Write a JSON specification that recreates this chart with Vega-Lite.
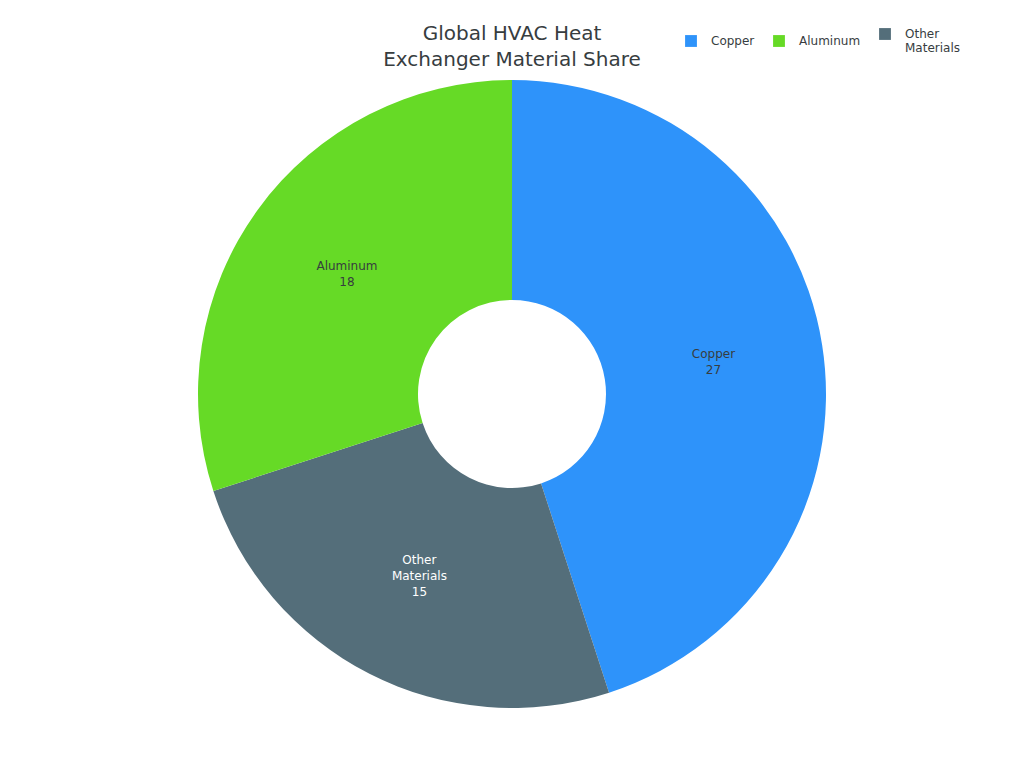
{
  "$schema": "https://vega.github.io/schema/vega-lite/v6.json",
  "width": 1024,
  "height": 748,
  "autosize": {"type": "none"},
  "padding": {"top": 20, "left": 0, "right": 0, "bottom": 0},
  "background": "white",
  "config": {"view": {"stroke": null}, "font": "DejaVu Sans"},
  "title": {
    "text": ["Global HVAC Heat", "Exchanger Material Share"],
    "anchor": "middle",
    "frame": "group",
    "font": "DejaVu Sans",
    "fontSize": 20,
    "fontWeight": "normal",
    "color": "#373d3f",
    "lineHeight": 26,
    "offset": -50
  },
  "data": {
    "values": [
      {"material": "Copper", "value": 27, "rank": 1},
      {"material": "Other Materials", "value": 15, "rank": 2},
      {"material": "Aluminum", "value": 18, "rank": 3}
    ]
  },
  "transform": [
    {"calculate": "datum.material + ' ' + datum.value", "as": "label"}
  ],
  "encoding": {
    "theta": {"field": "value", "type": "quantitative", "stack": true},
    "order": {"field": "rank", "type": "quantitative"}
  },
  "layer": [
    {
      "mark": {"type": "arc", "radius": 314, "innerRadius": 94, "strokeWidth": 0},
      "encoding": {
        "color": {
          "field": "material",
          "type": "nominal",
          "scale": {
            "domain": ["Copper", "Aluminum", "Other Materials"],
            "range": ["#2E93FA", "#66DA26", "#546E7A"]
          },
          "legend": {
            "title": null,
            "orient": "none",
            "legendX": 685,
            "legendY": 8,
            "direction": "horizontal",
            "symbolType": "square",
            "symbolSize": 140,
            "symbolStrokeWidth": 0,
            "labelFont": "DejaVu Sans",
            "labelFontSize": 12,
            "labelColor": "#373d3f",
            "labelOffset": 14,
            "columnPadding": 18,
            "padding": 0,
            "labelExpr": "split(datum.label, ' ')"
          }
        }
      }
    },
    {
      "mark": {
        "type": "text",
        "radius": 204,
        "fontSize": 12,
        "font": "DejaVu Sans",
        "lineBreak": " ",
        "lineHeight": 16,
        "baseline": "middle",
        "align": "center",
        "dy": {"expr": "-(length(split(datum.label, ' ')) - 1) * 8"}
      },
      "encoding": {
        "text": {"field": "label", "type": "nominal"},
        "color": {
          "condition": {"test": "datum.material == 'Other Materials'", "value": "#ffffff"},
          "value": "#373d3f"
        }
      }
    }
  ]
}
